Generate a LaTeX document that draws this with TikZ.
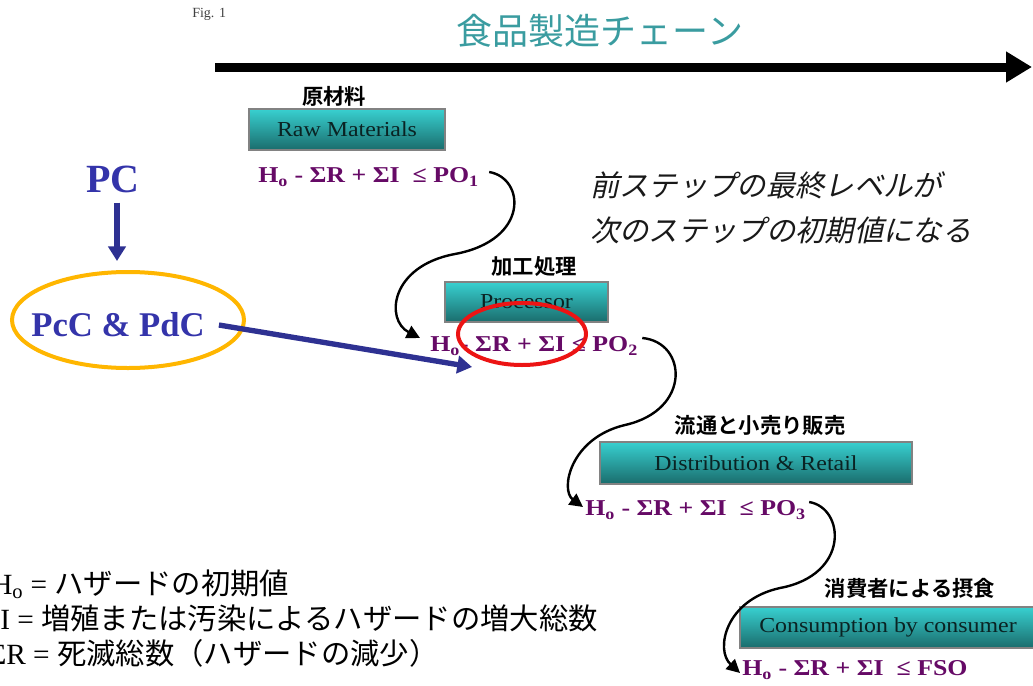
\documentclass[tikz,border=0pt]{standalone}
\usepackage{fontspec}
\setmainfont{Liberation Serif}
\newfontfamily\jp{Noto Sans CJK JP}[BoldFont={Noto Sans CJK JP Bold}]
\newfontfamily\jpit{Noto Sans CJK JP}[FakeSlant=0.22]
\newfontfamily\fml{Liberation Serif}[FakeStretch=1.14]
\newfontfamily\bxf{Liberation Serif}[FakeStretch=1.12]
\usetikzlibrary{arrows.meta,shapes.geometric,calc}
\definecolor{teal1}{RGB}{58,156,160}
\definecolor{fpurple}{RGB}{102,10,102}
\definecolor{pcblue}{RGB}{52,52,170}
\definecolor{arrblue}{RGB}{46,49,146}
\definecolor{boxtop}{RGB}{56,208,208}
\definecolor{boxbot}{RGB}{26,108,108}
\definecolor{boxtext}{RGB}{10,35,35}
\definecolor{boxline}{RGB}{130,130,130}
\definecolor{ringor}{RGB}{255,182,0}
\definecolor{ringred}{RGB}{236,20,20}
\tikzset{
  stagebox/.style={rectangle, draw=boxline, line width=0.8pt, top color=boxtop, bottom color=boxbot,
    font=\bxf\fontsize{16}{18}\selectfont, text=boxtext, inner sep=0pt},
  stagelabel/.style={font=\jp\bfseries\fontsize{16}{18}\selectfont, inner sep=0pt},
  formula/.style={anchor=west, inner sep=0pt, font=\fml\bfseries\fontsize{17}{19}\selectfont, text=fpurple},
  flow/.style={line width=1.8pt, -{Triangle[length=10pt,width=10pt]}},
  bluearrow/.style={draw=arrblue, line width=4pt, -{Triangle[length=11pt,width=13pt]}},
  pcfont/.style={font=\bfseries, text=pcblue, inner sep=0pt},
  legend/.style={anchor=base west, inner sep=0pt, font=\fontsize{22}{24}\selectfont},
  note/.style={anchor=west, inner sep=0pt, font=\jpit\fontsize{22}{24}\selectfont, text=black!90}
}
\begin{document}
\begin{tikzpicture}[x=0.75pt,y=-0.75pt]
\useasboundingbox (0,0) rectangle (1033,686);

% header
\node[font=\fontsize{10.5}{12}\selectfont, text=black!75, anchor=west, inner sep=0pt] (fig) at (192,14) {Fig. 1};
\node[font=\jp\fontsize{27}{30}\selectfont, text=teal1, inner sep=0pt] (title) at (600,31) {食品製造チェーン};
\coordinate (chainstart) at (215,67);
\coordinate (chainend) at (1032,67);
\draw[line width=6.75pt, -{Triangle[length=19.5pt,width=22pt]}] (chainstart) -- (chainend);

% stages
\node[stagelabel] (l1) at (334,96) {原材料};
\node[stagebox, minimum width=147pt, minimum height=30.75pt] (b1) at (347,129.5) {Raw Materials};
\node[formula] (f1) at (258,177) {H\textsubscript{o} - ΣR + ΣI\ \ ≤ PO\textsubscript{1}};

\node[stagelabel] (l2) at (534,266) {加工処理};
\node[stagebox, minimum width=122.25pt, minimum height=30pt] (b2) at (526.5,302) {Processor};
\node[formula] (f2) at (430,346) {H\textsubscript{o}- ΣR + ΣI ≤ PO\textsubscript{2}};

\node[stagelabel] (l3) at (760,425) {流通と小売り販売};
\node[stagebox, minimum width=234pt, minimum height=31.5pt] (b3) at (756,463) {Distribution \& Retail};
\node[formula] (f3) at (585,510) {H\textsubscript{o} - ΣR + ΣI\ \ ≤ PO\textsubscript{3}};

\node[stagelabel] (l4) at (910,588) {消費者による摂食};
\node[stagebox, minimum width=222pt, minimum height=30.75pt] (b4) at (888,627.5) {Consumption by consumer};
\node[formula] (f4) at (742,670) {H\textsubscript{o} - ΣR + ΣI\ \ ≤ FSO};

% flow curves
\draw[flow] ($(f1.east)+(10,-5)$) .. controls (525,178) and (530,240) .. (455,254)
            .. controls (390,266) and (385,320) .. ($(f2.west)+(-10,-8)$);
\draw[flow] ($(f2.east)+(4,-8)$) .. controls (687,342) and (692,410) .. (625,425)
            .. controls (570,438) and (560,490) .. ($(f3.west)+(-2,-3)$);
\draw[flow] ($(f3.east)+(3,-8)$) .. controls (845,508) and (850,575) .. (780,588)
            .. controls (725,600) and (715,650) .. ($(f4.west)+(-2,3)$);

% note
\node[note] (note1) at (590,185) {前ステップの最終レベルが};
\node[note] (note2) at (590,230) {次のステップの初期値になる};

% PC side
\node[pcfont, font=\bfseries\fontsize{30}{32}\selectfont] (pc) at (113,179) {PC};
\node[draw=ringor, line width=3pt, ellipse, minimum width=174pt, minimum height=72pt, inner sep=0pt] (ring) at (128,320) {};
\node[pcfont, font=\bfseries\fontsize{26}{28}\selectfont] (pcpd) at (118,325) {PcC \& PdC};
\draw[bluearrow] ($(pc.south)+(4,10)$) -- ($(ring.north)+(-11,-9)$);
\node[draw=ringred, line width=3pt, ellipse, minimum width=96pt, minimum height=46.5pt, inner sep=0pt] (redring) at (522,334) {};
\draw[bluearrow] ($(pcpd.east)+(14,0)$) -- ($(redring.center)+(-50,33)$);

% legend
\node[legend] (lh) at (-9,594) {H\textsubscript{o} = {\jp ハザードの初期値}};
\node[legend] (li) at (-17,629) {ΣI = {\jp 増殖または汚染によるハザードの増大総数}};
\node[legend] (lr) at (-11,664) {ΣR = {\jp 死滅総数（ハザードの減少）}};
\end{tikzpicture}
\end{document}
